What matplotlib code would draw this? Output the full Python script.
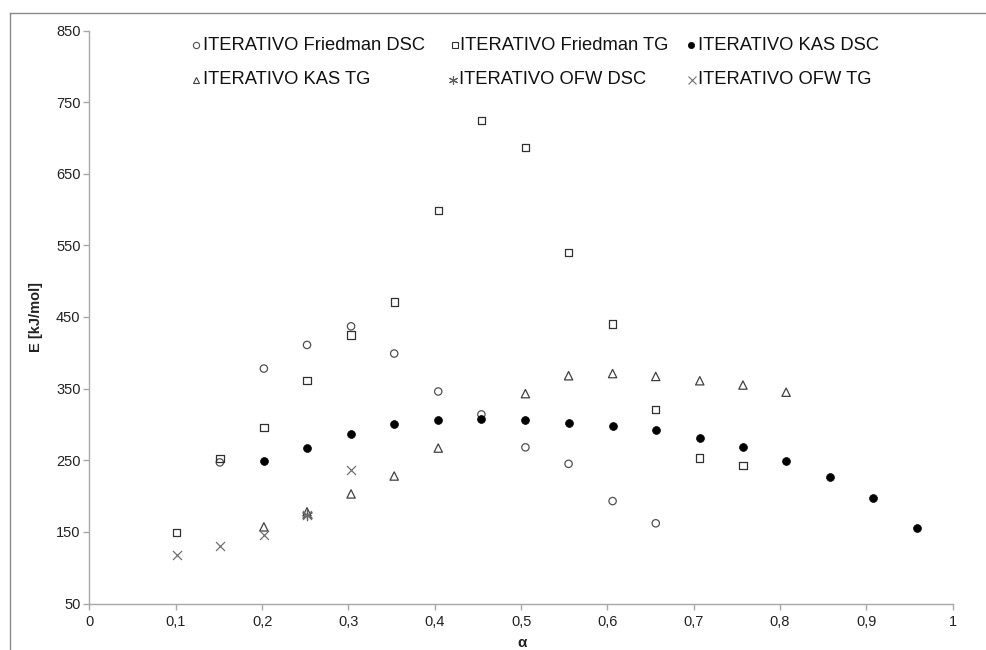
import matplotlib
matplotlib.use("Agg")
import matplotlib.pyplot as plt
from matplotlib.lines import Line2D

plt.rcParams['font.family'] = ['Liberation Sans', 'DejaVu Sans']

# conversion degree
alpha = [0.101, 0.151, 0.202, 0.252, 0.303, 0.353, 0.404, 0.454, 0.505,
         0.555, 0.606, 0.656, 0.707, 0.757, 0.807, 0.858, 0.908, 0.959]

# activation energy series [kJ/mol]
friedman_dsc_x = [0.151, 0.202, 0.252, 0.303, 0.353, 0.404, 0.454, 0.505, 0.555, 0.606, 0.656]
friedman_dsc_y = [247, 378, 411, 437, 399, 346, 314, 268, 245, 193, 162]

friedman_tg_x = [0.101, 0.151, 0.202, 0.252, 0.303, 0.353, 0.404, 0.454, 0.505, 0.555, 0.606, 0.656, 0.707, 0.757]
friedman_tg_y = [149, 252, 296, 361, 425, 471, 599, 724, 687, 540, 440, 321, 253, 243]

kas_dsc_x = [0.202, 0.252, 0.303, 0.353, 0.404, 0.454, 0.505, 0.555, 0.606, 0.656, 0.707, 0.757, 0.807, 0.858, 0.908, 0.959]
kas_dsc_y = [249, 267, 287, 300, 306, 308, 306, 302, 298, 292, 281, 268, 249, 226, 197, 155]

kas_tg_x = [0.202, 0.252, 0.303, 0.353, 0.404, 0.505, 0.555, 0.606, 0.656, 0.707, 0.757, 0.807]
kas_tg_y = [157, 178, 203, 228, 267, 343, 368, 371, 367, 361, 355, 345]

ofw_dsc_x = [0.252]
ofw_dsc_y = [174]

ofw_tg_x = [0.101, 0.151, 0.202, 0.252, 0.303]
ofw_tg_y = [118, 130, 146, 174, 237]

labels = ["ITERATIVO Friedman DSC", "ITERATIVO Friedman TG", "ITERATIVO KAS DSC",
          "ITERATIVO KAS TG", "ITERATIVO OFW DSC", "ITERATIVO OFW TG"]

x_ticks = [0, 0.1, 0.2, 0.3, 0.4, 0.5, 0.6, 0.7, 0.8, 0.9, 1]
x_tick_labels = ["0", "0,1", "0,2", "0,3", "0,4", "0,5", "0,6", "0,7", "0,8", "0,9", "1"]
y_ticks = [50, 150, 250, 350, 450, 550, 650, 750, 850]

W, H = 987, 650
fig = plt.figure(figsize=(W / 100, H / 100), dpi=100)
ax = fig.add_axes([89.5 / W, 1 - 603.5 / H, (952.7 - 89.5) / W, (603.5 - 30.5) / H])

styles = [
    dict(marker='o', s=28, facecolors='none', edgecolors='#505050', linewidths=0.9),
    dict(marker='s', s=28, facecolors='none', edgecolors='#303030', linewidths=0.9),
    dict(marker='o', s=32, facecolors='black', edgecolors='black', linewidths=0.5),
    dict(marker='^', s=36, facecolors='none', edgecolors='#404040', linewidths=0.9),
    dict(marker=(6, 2, 0), s=55, color='#606060', linewidths=0.9),
    dict(marker='x', s=42, color='#707070', linewidths=0.9),
]
series = [(friedman_dsc_x, friedman_dsc_y), (friedman_tg_x, friedman_tg_y),
          (kas_dsc_x, kas_dsc_y), (kas_tg_x, kas_tg_y),
          (ofw_dsc_x, ofw_dsc_y), (ofw_tg_x, ofw_tg_y)]

for (xs, ys), st in zip(series, styles):
    ax.scatter(xs, ys, clip_on=False, zorder=3, **st)

ax.set_xlim(0, 1)
ax.set_ylim(50, 850)
ax.set_xticks(x_ticks)
ax.set_xticklabels(x_tick_labels)
ax.set_yticks(y_ticks)
for s in ['top', 'right']:
    ax.spines[s].set_visible(False)
for s in ['left', 'bottom']:
    ax.spines[s].set_color('#a8a8a8')
    ax.spines[s].set_linewidth(1.0)
ax.tick_params(axis='both', colors='#a8a8a8', length=4, width=1.0, labelsize=10.5,
               labelcolor='#222222', direction='out')
ax.tick_params(axis='y', pad=2.5)
ax.tick_params(axis='x', pad=4)

ax.set_ylabel("E [kJ/mol]", fontsize=10.5, fontweight='bold', color='#222222', labelpad=9)
fig.text(522 / W, 1 - 643 / H, "α", fontsize=11, fontweight='bold',
         ha='center', va='center', color='#222222')

# legend entries laid out in two rows of three
marker_px = [(196, 45), (455, 45), (691, 45), (196, 80), (453, 80), (692, 80)]
text_px = [(203, 45), (460, 45), (698, 45), (203, 80), (459, 80), (698, 80)]
leg_styles = [
    dict(marker='o', markersize=4.5, markerfacecolor='none', markeredgecolor='#505050', markeredgewidth=0.8),
    dict(marker='s', markersize=4.5, markerfacecolor='none', markeredgecolor='#303030', markeredgewidth=0.8),
    dict(marker='o', markersize=4.5, markerfacecolor='black', markeredgecolor='black', markeredgewidth=0.5),
    dict(marker='^', markersize=5, markerfacecolor='none', markeredgecolor='#404040', markeredgewidth=0.8),
    dict(marker=(6, 2, 0), markersize=6.5, color='#606060', markeredgewidth=0.8),
    dict(marker='x', markersize=5.5, color='#707070', markeredgewidth=0.8),
]
for (mx, my), (tx, ty), lbl, st in zip(marker_px, text_px, labels, leg_styles):
    fig.add_artist(Line2D([mx / W], [1 - my / H], linestyle='none',
                          transform=fig.transFigure, **st))
    fig.text(tx / W, 1 - ty / H, lbl, fontsize=13.2, ha='left', va='center',
             color='#111111')

# chart area border
fig.add_artist(Line2D([10 / W, 1], [1 - 13 / H, 1 - 13 / H], color='#8a8a8a',
                      linewidth=1.0, transform=fig.transFigure))
fig.add_artist(Line2D([10 / W, 10 / W], [0, 1 - 13 / H], color='#8a8a8a',
                      linewidth=1.0, transform=fig.transFigure))

fig.savefig("out.png", dpi=100, facecolor='white')
